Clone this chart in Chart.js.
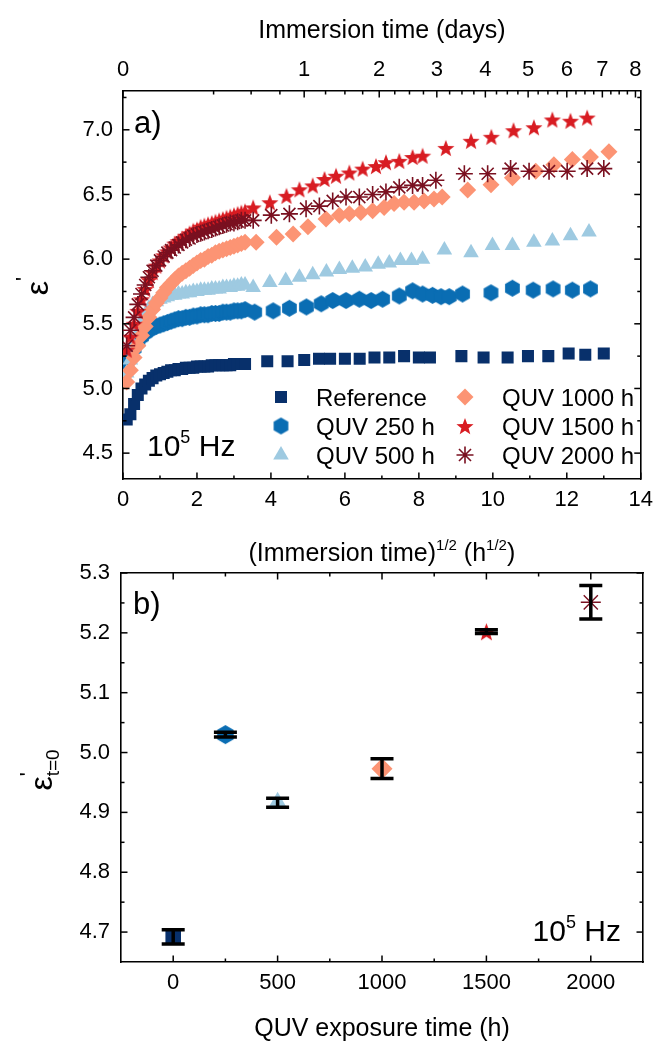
<!DOCTYPE html>
<html>
<head>
<meta charset="utf-8">
<script src="https://cdn.jsdelivr.net/npm/chart.js@4.4.1/dist/chart.umd.min.js"></script>
<style>
  html, body { margin: 0; padding: 0; background: #fff; }
  #wrap { position: relative; width: 661px; height: 1042px; }
  #wrap canvas { position: absolute; left: 0; top: 0; }
</style>
</head>
<body>
<div id="wrap">
  <canvas id="chartA" width="661" height="1042"></canvas>
  <canvas id="chartB" width="661" height="1042"></canvas>
</div>
<script>
// ---- panel a: (immersion time)^1/2 in h^1/2 ----
const denseX = [0.1,0.2,0.3,0.4,0.5,0.6,0.7,0.8,0.9,1.0,1.1,1.2,1.3,1.4,1.5,1.6,1.7,1.8,1.9,2.0,2.1,2.2,2.3,2.4,2.5,2.6,2.7,2.8,2.9,3.0,3.1,3.2,3.3];

const refDenseY = [4.76,4.80,4.88,4.95,5.00,5.03,5.06,5.08,5.10,5.11,5.12,5.13,5.14,5.14,5.15,5.15,5.16,5.16,5.16,5.17,5.17,5.17,5.17,5.18,5.18,5.18,5.18,5.18,5.18,5.19,5.19,5.19,5.19];
const refSparseX = [3.9,4.45,4.9,5.3,5.6,6.0,6.4,6.8,7.2,7.6,8.0,8.3,9.15,9.75,10.4,10.95,11.5,12.05,12.5,13.0];
const refSparseY = [5.21,5.21,5.22,5.23,5.23,5.23,5.23,5.24,5.24,5.25,5.24,5.24,5.25,5.24,5.24,5.25,5.25,5.27,5.26,5.27];

const q250DenseY = [5.15,5.24,5.31,5.36,5.40,5.43,5.45,5.47,5.48,5.49,5.50,5.51,5.52,5.53,5.54,5.54,5.55,5.55,5.56,5.56,5.57,5.57,5.57,5.58,5.58,5.58,5.59,5.59,5.59,5.60,5.60,5.60,5.61];
const q250SparseX = [3.56,4.06,4.5,4.96,5.36,5.67,6.03,6.39,6.71,7.02,7.47,7.83,8.10,8.37,8.6,8.82,9.18,9.95,10.53,11.09,11.63,12.15,12.64];
const q250SparseY = [5.59,5.60,5.62,5.63,5.655,5.68,5.68,5.69,5.68,5.69,5.715,5.755,5.73,5.72,5.71,5.71,5.73,5.74,5.775,5.76,5.77,5.76,5.77];

const q500DenseY = [5.12,5.22,5.33,5.43,5.51,5.57,5.62,5.65,5.67,5.69,5.70,5.71,5.72,5.72,5.73,5.73,5.74,5.74,5.75,5.75,5.76,5.76,5.76,5.77,5.77,5.77,5.78,5.78,5.78,5.79,5.79,5.80,5.80];
const q500SparseX = [3.52,3.97,4.4,4.77,5.13,5.5,5.85,6.2,6.55,6.9,7.2,7.5,7.8,8.1,8.69,9.41,9.99,10.53,11.11,11.61,12.10,12.6];
const q500SparseY = [5.78,5.82,5.835,5.86,5.88,5.90,5.92,5.93,5.94,5.96,5.97,5.99,5.99,6.00,6.07,6.05,6.105,6.105,6.13,6.14,6.18,6.21];

const q1000DenseY = [5.05,5.14,5.24,5.33,5.41,5.48,5.55,5.61,5.66,5.70,5.74,5.78,5.81,5.84,5.87,5.89,5.91,5.93,5.95,5.97,5.99,6.00,6.02,6.03,6.05,6.06,6.07,6.08,6.09,6.10,6.11,6.12,6.13];
const q1000SparseX = [3.6,4.15,4.6,5.0,5.49,5.85,6.12,6.43,6.75,7.06,7.33,7.6,7.87,8.14,8.41,8.63,9.32,9.95,10.53,11.16,11.65,12.15,12.64,13.14];
const q1000SparseY = [6.13,6.17,6.195,6.25,6.31,6.34,6.35,6.36,6.375,6.40,6.43,6.44,6.44,6.45,6.465,6.48,6.535,6.575,6.63,6.68,6.73,6.77,6.79,6.83];

const q1500DenseY = [5.30,5.40,5.50,5.60,5.69,5.77,5.84,5.90,5.95,5.99,6.03,6.06,6.09,6.12,6.14,6.16,6.18,6.20,6.22,6.23,6.25,6.26,6.27,6.28,6.29,6.30,6.31,6.32,6.33,6.34,6.35,6.36,6.37];
const q1500SparseX = [3.52,3.97,4.42,4.77,5.13,5.45,5.76,6.12,6.48,6.84,7.11,7.47,7.83,8.10,8.73,9.41,9.96,10.56,11.11,11.61,12.10,12.55];
const q1500SparseY = [6.40,6.44,6.49,6.54,6.57,6.62,6.645,6.67,6.70,6.72,6.75,6.76,6.79,6.80,6.86,6.915,6.946,6.997,7.02,7.08,7.07,7.095];

const q2000DenseY = [5.33,5.45,5.55,5.65,5.73,5.80,5.86,5.91,5.95,5.99,6.02,6.05,6.07,6.09,6.11,6.13,6.15,6.16,6.18,6.19,6.20,6.21,6.22,6.23,6.24,6.25,6.26,6.27,6.28,6.28,6.29,6.30,6.30];
const q2000SparseX = [3.52,4.01,4.5,4.95,5.31,5.67,6.03,6.39,6.75,7.11,7.47,7.83,8.1,8.46,9.23,9.86,10.48,10.98,11.52,12.01,12.55,13.0];
const q2000SparseY = [6.30,6.34,6.35,6.39,6.41,6.45,6.48,6.48,6.50,6.52,6.555,6.57,6.57,6.61,6.66,6.66,6.70,6.68,6.68,6.68,6.70,6.70];

const seriesLabels = ['Reference', 'QUV 250 h', 'QUV 500 h', 'QUV 1000 h', 'QUV 1500 h', 'QUV 2000 h'];

// axis ticks, panel a
const rootTicks = [0,2,4,6,8,10,12,14];
const rootMinor = [1,3,5,7,9,11,13];
const dayTicks = [0,1,2,3,4,5,6,7,8];
const dayMinor = [0.25,0.5,0.75,1.25,1.5,1.75,2.25,2.5,2.75,3.25,3.5,3.75,4.25,4.5,4.75,5.25,5.5,5.75,6.25,6.5,6.75,7.25,7.5,7.75];
const epsTicksA = [4.5,5.0,5.5,6.0,6.5,7.0];
const epsMinorA = [4.75,5.25,5.75,6.25,6.75,7.25];

// ---- panel b: epsilon' at t=0 vs QUV exposure ----
const quvHours = [0, 250, 500, 1000, 1500, 2000];
const epsT0 = [4.692, 5.030, 4.916, 4.973, 5.202, 5.251];
const epsT0Err = [0.012, 0.004, 0.0075, 0.0165, 0.003, 0.028];
const quvTicks = [0, 500, 1000, 1500, 2000];
const quvMinor = [250, 750, 1250, 1750];
const epsTicksB = [4.7, 4.8, 4.9, 5.0, 5.1, 5.2, 5.3];
const epsMinorB = [4.75, 4.85, 4.95, 5.05, 5.15, 5.25];

const FONT = "'Liberation Sans', Arial, sans-serif";
Chart.defaults.font.family = FONT;
Chart.defaults.color = '#000';

const colors = ['#08306b', '#0a6db3', '#9ecae1', '#fc9474', '#d81c22', '#7a1020'];

// pointy-top hexagon
function hexImg(color, r) {
  const c = document.createElement('canvas');
  const s = Math.ceil(2 * r + 2);
  c.width = c.height = s;
  const g = c.getContext('2d');
  g.fillStyle = color;
  g.beginPath();
  for (let k = 0; k < 6; k++) {
    const a = Math.PI / 6 + k * Math.PI / 3;
    const px = s / 2 + r * Math.cos(a), py = s / 2 + r * Math.sin(a);
    if (k) g.lineTo(px, py); else g.moveTo(px, py);
  }
  g.closePath();
  g.fill();
  return c;
}

function starImg(color, r) {
  const c = document.createElement('canvas');
  const s = Math.ceil(2 * r + 2);
  c.width = c.height = s;
  const g = c.getContext('2d');
  g.fillStyle = color;
  g.beginPath();
  for (let k = 0; k < 10; k++) {
    const a = -Math.PI / 2 + k * Math.PI / 5;
    const rr = k % 2 ? r * 0.42 : r;
    const px = s / 2 + rr * Math.cos(a), py = s / 2 + 1 + rr * Math.sin(a);
    if (k) g.lineTo(px, py); else g.moveTo(px, py);
  }
  g.closePath();
  g.fill();
  return c;
}

const pts = (xs, ys) => xs.map((x, i) => ({ x: x, y: ys[i] }));

const markA = [
  { pointStyle: 'rect', pointRadius: 8.5 },
  { pointStyle: hexImg(colors[1], 8.5), pointRadius: 8.5 },
  { pointStyle: 'triangle', pointRadius: 9 },
  { pointStyle: 'rectRot', pointRadius: 8.5 },
  { pointStyle: starImg(colors[4], 9), pointRadius: 9 },
  { pointStyle: 'star', pointRadius: 8.5 }
];

const dataA = [
  pts(denseX.concat(refSparseX), refDenseY.concat(refSparseY)),
  pts(denseX.concat(q250SparseX), q250DenseY.concat(q250SparseY)),
  pts(denseX.concat(q500SparseX), q500DenseY.concat(q500SparseY)),
  pts(denseX.concat(q1000SparseX), q1000DenseY.concat(q1000SparseY)),
  pts(denseX.concat(q1500SparseX), q1500DenseY.concat(q1500SparseY)),
  pts(denseX.concat(q2000SparseX), q2000DenseY.concat(q2000SparseY))
];

const datasetsA = dataA.map((d, i) => ({
  label: seriesLabels[i],
  data: d,
  pointStyle: markA[i].pointStyle,
  pointRadius: markA[i].pointRadius,
  pointHoverRadius: markA[i].pointRadius,
  backgroundColor: colors[i],
  borderColor: colors[i],
  borderWidth: i === 5 ? 1.6 : 0,
  showLine: false,
  order: 6 - i
}));

// inward tick specs per canvas (kept outside chart options so nothing is resolved as scriptable)
const tickSpecs = {
  chartA: [
    { id: 'x', major: rootTicks, minor: rootMinor },
    { id: 'xTop', major: dayTicks.map(d => Math.sqrt(24 * d)), minor: dayMinor.map(d => Math.sqrt(24 * d)) },
    { id: 'y', major: epsTicksA, minor: epsMinorA },
    { id: 'yRight', major: epsTicksA, minor: epsMinorA }
  ],
  chartB: [
    { id: 'x', major: quvTicks, minor: quvMinor },
    { id: 'xTop', major: quvTicks, minor: quvMinor },
    { id: 'y', major: epsTicksB, minor: epsMinorB },
    { id: 'yRight', major: epsTicksB, minor: epsMinorB }
  ]
};

const inTicks = {
  id: 'inTicks',
  afterDraw(chart) {
    const ctx = chart.ctx, a = chart.chartArea;
    const specs = tickSpecs[chart.canvas.id];
    ctx.save();
    ctx.strokeStyle = '#000';
    ctx.lineWidth = 1.5;
    for (const spec of specs) {
      const sc = chart.scales[spec.id];
      const groups = [[spec.major, 6.5], [spec.minor, 3.5]];
      for (const g of groups) {
        const len = g[1];
        for (const v of g[0]) {
          const p = sc.getPixelForValue(v);
          ctx.beginPath();
          if (sc.isHorizontal()) {
            const y = sc.position === 'top' ? a.top : a.bottom;
            ctx.moveTo(p, y);
            ctx.lineTo(p, y + (sc.position === 'top' ? len : -len));
          } else {
            const x = sc.position === 'left' ? a.left : a.right;
            ctx.moveTo(x, p);
            ctx.lineTo(x + (sc.position === 'left' ? len : -len), p);
          }
          ctx.stroke();
        }
      }
    }
    ctx.restore();
  }
};

// text with super/subscripts; parts: {t, size, dy, noAdvance}
function drawRich(ctx, parts, x, y, align) {
  let total = 0;
  parts.forEach(p => {
    ctx.font = p.size + 'px ' + FONT;
    p.w = ctx.measureText(p.t).width;
    if (!p.noAdvance) total += p.w;
  });
  let cx = align === 'center' ? x - total / 2 : align === 'right' ? x - total : x;
  ctx.textAlign = 'left';
  ctx.textBaseline = 'alphabetic';
  parts.forEach(p => {
    ctx.font = p.size + 'px ' + FONT;
    ctx.fillText(p.t, cx + (p.dx || 0), y + (p.dy || 0));
    if (!p.noAdvance) cx += p.w;
  });
}

const textA = {
  id: 'textA',
  afterDraw(chart) {
    const ctx = chart.ctx, a = chart.chartArea;
    const mid = (a.left + a.right) / 2;
    ctx.save();
    ctx.fillStyle = '#000';
    drawRich(ctx, [{ t: 'Immersion time (days)', size: 25 }], mid, 38, 'center');
    drawRich(ctx, [
      { t: '(Immersion time)', size: 25 }, { t: '1/2', size: 15, dy: -11 },
      { t: ' (h', size: 25 }, { t: '1/2', size: 15, dy: -11 }, { t: ')', size: 25 }
    ], mid, 561, 'center');
    drawRich(ctx, [{ t: 'a)', size: 31 }], a.left + 11, 133, 'left');
    drawRich(ctx, [{ t: '10', size: 30 }, { t: '5', size: 18, dy: -13 }, { t: ' Hz', size: 30 }], a.left + 24, 456, 'left');
    ctx.translate(48, 286);
    ctx.rotate(-Math.PI / 2);
    drawRich(ctx, [{ t: '\u03b5', size: 32 }, { t: "'", size: 22, dy: -17 }], 0, 0, 'center');
    ctx.restore();
  }
};

// legend inside panel a, two columns of three
function drawMarker(ctx, ds, x, y) {
  ctx.fillStyle = ds.backgroundColor;
  ctx.strokeStyle = ds.borderColor;
  ctx.lineWidth = ds.borderWidth || 1;
  Chart.helpers.drawPoint(ctx, {
    pointStyle: ds.pointStyle, radius: ds.pointRadius, rotation: 0, borderWidth: ds.borderWidth
  }, x, y);
}

const legendA = {
  id: 'legendA',
  afterDraw(chart) {
    const ctx = chart.ctx;
    const colX = [281, 465], textX = [316, 502], rowY = [397, 426, 455];
    ctx.save();
    chart.data.datasets.forEach((ds, i) => {
      const col = Math.floor(i / 3), row = i % 3;
      drawMarker(ctx, ds, colX[col], rowY[row]);
      ctx.fillStyle = '#000';
      drawRich(ctx, [{ t: ds.label, size: 24 }], textX[col], rowY[row] + 9, 'left');
    });
    ctx.restore();
  }
};

const tickOpts = (extra) => Object.assign({
  font: { family: FONT, size: 22 }, color: '#000', padding: 8, autoSkip: false, maxRotation: 0
}, extra);
const grid = { display: false, drawTicks: false };
const border = { display: true, color: '#000', width: 1.6 };

new Chart(document.getElementById('chartA'), {
  type: 'scatter',
  data: { datasets: datasetsA },
  options: {
    responsive: false,
    animation: false,
    devicePixelRatio: 1,
    layout: { padding: { top: 0, left: 0, right: 0, bottom: 472 } },
    plugins: { legend: { display: false }, tooltip: { enabled: false } },
    scales: {
      x: {
        type: 'linear', position: 'bottom', min: 0, max: 14,
        grid: grid, border: border,
        afterBuildTicks: s => { s.ticks = rootTicks.map(v => ({ value: v })); },
        afterFit: s => { s.height = 91; },
        ticks: tickOpts({ callback: v => String(v) })
      },
      xTop: {
        type: 'linear', position: 'top', axis: 'x', min: 0, max: 14,
        grid: grid, border: border,
        afterBuildTicks: s => { s.ticks = dayTicks.map(d => ({ value: Math.sqrt(24 * d) })); },
        afterFit: s => { s.height = 91; },
        ticks: tickOpts({ callback: v => String(Math.round(v * v / 24)) })
      },
      y: {
        type: 'linear', position: 'left', min: 4.3, max: 7.3,
        grid: grid, border: border,
        afterBuildTicks: s => { s.ticks = epsTicksA.map(v => ({ value: v })); },
        afterFit: s => { s.width = 123; },
        ticks: tickOpts({ padding: 10, callback: v => v.toFixed(1) })
      },
      yRight: {
        type: 'linear', position: 'right', axis: 'y', min: 4.3, max: 7.3,
        grid: grid, border: border,
        afterFit: s => { s.width = 19; },
        ticks: { display: false }
      }
    }
  },
  plugins: [inTicks, legendA, textA]
});

// ---- panel b ----
const markB = [
  { pointStyle: 'rect', pointRadius: 11 },
  { pointStyle: hexImg(colors[1], 9.5), pointRadius: 9.5 },
  { pointStyle: 'triangle', pointRadius: 11 },
  { pointStyle: 'rectRot', pointRadius: 10.5 },
  { pointStyle: starImg(colors[4], 9.5), pointRadius: 9.5 },
  { pointStyle: 'star', pointRadius: 10 }
];

const datasetsB = quvHours.map((h, i) => ({
  label: seriesLabels[i],
  data: [{ x: h, y: epsT0[i] }],
  pointStyle: markB[i].pointStyle,
  pointRadius: markB[i].pointRadius,
  pointHoverRadius: markB[i].pointRadius,
  backgroundColor: colors[i],
  borderColor: colors[i],
  borderWidth: i === 5 ? 1.4 : 0,
  showLine: false
}));

const errorBars = {
  id: 'errorBars',
  afterDatasetsDraw(chart) {
    const ctx = chart.ctx, xs = chart.scales.x, ys = chart.scales.y;
    ctx.save();
    ctx.strokeStyle = '#000';
    ctx.lineWidth = 3.5;
    ctx.lineCap = 'butt';
    quvHours.forEach((h, i) => {
      const x = xs.getPixelForValue(h);
      const yHi = ys.getPixelForValue(epsT0[i] + epsT0Err[i]);
      const yLo = ys.getPixelForValue(epsT0[i] - epsT0Err[i]);
      ctx.beginPath();
      ctx.moveTo(x, yHi); ctx.lineTo(x, yLo);
      ctx.moveTo(x - 11.5, yHi); ctx.lineTo(x + 11.5, yHi);
      ctx.moveTo(x - 11.5, yLo); ctx.lineTo(x + 11.5, yLo);
      ctx.stroke();
    });
    ctx.restore();
  }
};

const textB = {
  id: 'textB',
  afterDraw(chart) {
    const ctx = chart.ctx, a = chart.chartArea;
    const mid = (a.left + a.right) / 2;
    ctx.save();
    ctx.fillStyle = '#000';
    drawRich(ctx, [{ t: 'QUV exposure time (h)', size: 25 }], mid, 1036, 'center');
    drawRich(ctx, [{ t: 'b)', size: 31 }], a.left + 12, 614, 'left');
    drawRich(ctx, [{ t: '10', size: 30 }, { t: '5', size: 18, dy: -13 }, { t: ' Hz', size: 30 }], a.right - 22, 941, 'right');
    ctx.translate(52, 770);
    ctx.rotate(-Math.PI / 2);
    drawRich(ctx, [
      { t: '\u03b5', size: 32 },
      { t: "'", size: 22, dy: -17, noAdvance: true },
      { t: 't=0', size: 19, dy: 7 }
    ], 0, 0, 'center');
    ctx.restore();
  }
};

new Chart(document.getElementById('chartB'), {
  type: 'scatter',
  data: { datasets: datasetsB },
  options: {
    responsive: false,
    animation: false,
    devicePixelRatio: 1,
    layout: { padding: { top: 540, left: 0, right: 0, bottom: 0 } },
    plugins: { legend: { display: false }, tooltip: { enabled: false } },
    scales: {
      x: {
        type: 'linear', position: 'bottom', min: -250, max: 2250,
        grid: grid, border: border,
        afterBuildTicks: s => { s.ticks = quvTicks.map(v => ({ value: v })); },
        afterFit: s => { s.height = 80; },
        ticks: tickOpts({ callback: v => String(v) })
      },
      xTop: {
        type: 'linear', position: 'top', axis: 'x', min: -250, max: 2250,
        grid: grid, border: border,
        afterFit: s => { s.height = 33; },
        ticks: { display: false }
      },
      y: {
        type: 'linear', position: 'left', min: 4.65, max: 5.3,
        grid: grid, border: border,
        afterBuildTicks: s => { s.ticks = epsTicksB.map(v => ({ value: v })); },
        afterFit: s => { s.width = 121; },
        ticks: tickOpts({ padding: 11, callback: v => v.toFixed(1) })
      },
      yRight: {
        type: 'linear', position: 'right', axis: 'y', min: 4.65, max: 5.3,
        grid: grid, border: border,
        afterFit: s => { s.width = 18; },
        ticks: { display: false }
      }
    }
  },
  plugins: [inTicks, errorBars, textB]
});
</script>
</body>
</html>
